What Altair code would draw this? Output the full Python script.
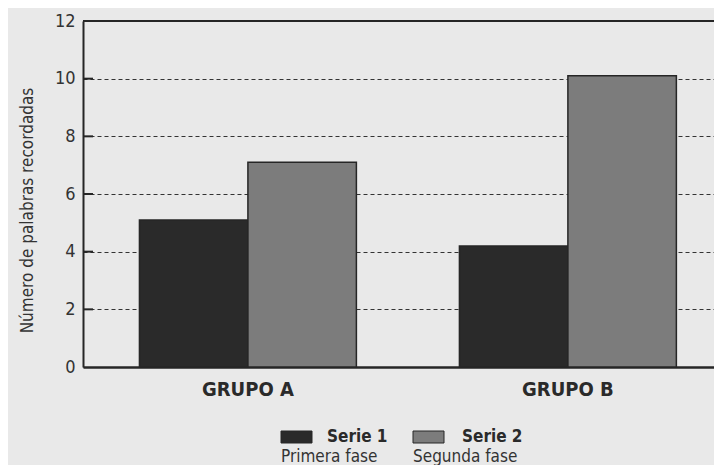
import altair as alt
import pandas as pd

# ---- data ----
groups = ["GRUPO A", "GRUPO B"]
series = ["Serie 1", "Serie 2"]
phases = ["Primera fase", "Segunda fase"]
serie1_values = [5.1, 4.2]
serie2_values = [7.1, 10.1]
y_ticks = [0, 2, 4, 6, 8, 10, 12]
inner_ticks = [2, 4, 6, 8, 10]

rows = []
for g, v1, v2 in zip(groups, serie1_values, serie2_values):
    rows.append({"grupo": g, "serie": series[0], "valor": v1})
    rows.append({"grupo": g, "serie": series[1], "valor": v2})
df = pd.DataFrame(rows)

W, H = 631, 346
FONT = "Liberation Sans Narrow, DejaVu Sans Condensed, Arial Narrow, sans-serif"
INK = "#262626"
YTITLE = "Número de palabras recordadas"
color_scale = alt.Scale(domain=series, range=["#2a2a2a", "#7c7c7c"])

bars = alt.Chart(df).mark_bar(stroke=INK, strokeWidth=1.5).encode(
    x=alt.X(
        "grupo:N", sort=groups,
        scale=alt.Scale(paddingInner=0.322, paddingOuter=0.147, align=0.6),
        axis=alt.Axis(title=None, labelAngle=0, labelFont=FONT, labelFontSize=20,
                      labelFontWeight="bold", labelColor="#2a2a2a", ticks=False,
                      domainColor=INK, domainWidth=2.5, labelPadding=12, grid=False),
    ),
    xOffset=alt.XOffset("serie:N", sort=series),
    y=alt.Y(
        "valor:Q", title=YTITLE,
        scale=alt.Scale(domain=[0, 12], nice=False),
        axis=alt.Axis(values=y_ticks, grid=True, gridDash=[4, 3], gridColor="#333333",
                      gridWidth=1, ticks=False, domainColor=INK, domainWidth=2,
                      labelFont=FONT, labelFontSize=18, labelColor="#333333", labelPadding=8,
                      titleFont=FONT, titleFontSize=17, titleFontWeight="normal",
                      titleColor="#333333", titleX=-56, titleY=189, titleAngle=270,
                      titleAlign="center", titleBaseline="middle"),
    ),
    color=alt.Color("serie:N", scale=color_scale, legend=None),
)

top_line = alt.Chart(alt.Data(values=[{"valor": 12}])).mark_rule(
    color=INK, strokeWidth=2
).encode(y=alt.Y("valor:Q", title=YTITLE), x=alt.value(0), x2=alt.value(W))

tick_marks = alt.Chart(pd.DataFrame({"valor": inner_ticks})).mark_rule(
    color=INK, strokeWidth=2
).encode(y=alt.Y("valor:Q", title=YTITLE), x=alt.value(0), x2=alt.value(10))

legend_layers = []
legend_pos = [(198, 229, 244), (330, 361, 379)]
for s, ph, (x0, x1, xt) in zip(series, phases, legend_pos):
    d = alt.Data(values=[{"serie": s, "fase": ph}])
    legend_layers.append(
        alt.Chart(d).mark_rect(stroke=INK, strokeWidth=1).encode(
            color=alt.Color("serie:N", scale=color_scale, legend=None),
            x=alt.value(x0), x2=alt.value(x1), y=alt.value(410), y2=alt.value(422),
        )
    )
    legend_layers.append(
        alt.Chart(d).mark_text(font=FONT, fontSize=17, fontWeight="bold", color="#2a2a2a",
                               align="left", baseline="middle").encode(
            text="serie:N", x=alt.value(xt), y=alt.value(416)
        )
    )
    legend_layers.append(
        alt.Chart(d).mark_text(font=FONT, fontSize=17, color="#333333",
                               align="left", baseline="middle").encode(
            text="fase:N", x=alt.value(x0), y=alt.value(436)
        )
    )

chart = alt.layer(bars, top_line, tick_marks, *legend_layers).properties(
    width=W, height=H,
    autosize=alt.AutoSizeParams(type="none"),
    padding={"left": 75, "top": 13, "right": 0, "bottom": 98},
).configure(background="#e9e9e9").configure_view(stroke=None)

chart.save("out.html", embed_options={"renderer": "svg", "actions": False})
